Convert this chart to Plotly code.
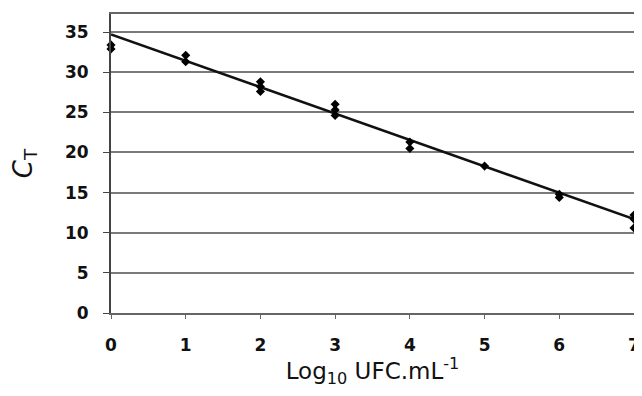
import plotly.graph_objects as go

# Data
x_points = [0, 0, 1, 1, 2, 2, 2, 3, 3, 3, 4, 4, 5, 6, 6, 7, 7, 7]
ct_points = [32.9, 33.4, 31.3, 32.1, 27.6, 28.2, 28.8, 24.6, 25.3, 26.0,
             20.5, 21.3, 18.3, 14.4, 14.8, 10.6, 11.7, 12.2]
fit_x = [0, 7]
fit_y = [34.7, 11.7]
x_ticks = [0, 1, 2, 3, 4, 5, 6, 7]
y_ticks = [0, 5, 10, 15, 20, 25, 30, 35]

fig = go.Figure()
fig.add_trace(go.Scatter(x=fit_x, y=fit_y, mode="lines",
                         line=dict(color="#111111", width=2.5),
                         showlegend=False, hoverinfo="skip"))
fig.add_trace(go.Scatter(x=x_points, y=ct_points, mode="markers",
                         marker=dict(symbol="diamond", size=7, color="#000000"),
                         cliponaxis=False, showlegend=False))

tick_font = dict(family="DejaVu Sans", size=17, color="#111111", weight="bold")

# page body has an 8px margin, so the figure is offset by 8px
fig.update_layout(
    width=626, height=380,
    margin=dict(l=103, r=0, t=6, b=75),
    paper_bgcolor="white", plot_bgcolor="white",
    xaxis=dict(range=[0, 7], tickvals=x_ticks, showgrid=False, automargin=False,
               showline=True, linecolor="#666666", linewidth=2, mirror=True,
               ticks="outside", ticklen=4, tickcolor="#666666",
               tickfont=tick_font, ticklabelstandoff=12, zeroline=False,
               ticklabeloverflow="allow",
               title=dict(text="Log<sub>10</sub> UFC.mL<sup>-1</sup>",
                          font=dict(family="DejaVu Sans", size=23, color="#111111"),
                          standoff=20)),
    yaxis=dict(range=[0, 37.25], tickvals=y_ticks, showgrid=True, automargin=False,
               gridcolor="#7a7a7a", gridwidth=2,
               showline=True, linecolor="#444444", linewidth=2, mirror=True,
               ticks="outside", ticklen=6, tickcolor="#444444",
               tickfont=tick_font, ticklabelstandoff=11, zeroline=False,
               title=dict(text="<i>C</i><sub>T</sub>",
                          font=dict(family="DejaVu Sans", size=26, color="#111111"),
                          standoff=30)),
)

fig.write_html("out.html")
